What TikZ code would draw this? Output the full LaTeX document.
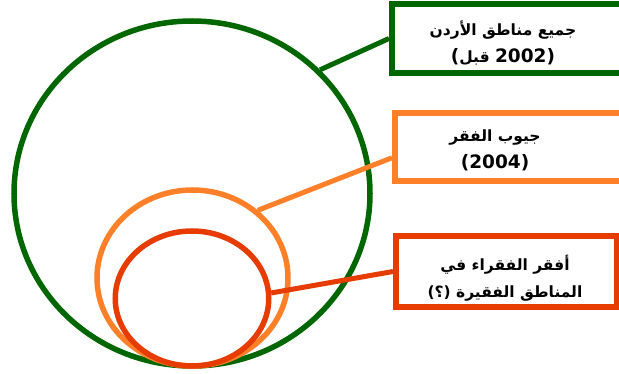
\documentclass[tikz,border=0pt]{standalone}
\usepackage{fontspec}
\newfontfamily\arabicfont[Script=Arabic]{DejaVu Sans}
\newfontfamily\latinfont{DejaVu Sans}
\TeXXeTstate=1
\usetikzlibrary{shapes.geometric}
\definecolor{jgreen}{RGB}{0,102,0}
\definecolor{jorange}{RGB}{255,128,40}
\definecolor{jred}{RGB}{230,60,0}
\newcommand{\lat}[1]{\hbox{\latinfont\fontsize{18.5}{27}\selectfont #1}}
\newcommand{\rtl}[1]{\hbox{\beginR #1\endR}}
\begin{document}
\begin{tikzpicture}
        [x=1pt,y=-1pt,
        ring/.style={ellipse,inner sep=0pt,line width=5.5pt},
        frame/.style={rectangle,inner sep=0pt,line width=6pt,fill=white},
        link/.style={line width=5pt},
        caption/.style={font=\arabicfont\bfseries\fontsize{15.5}{27}\selectfont,
            align=center,inner sep=0pt}]
        \useasboundingbox (0,0) rectangle (619,374);
        % nested areas
        \node[ring,draw=jgreen,minimum width=356,minimum height=345] (all) at (192,193.5) {};
        \node[ring,draw=jorange,minimum width=191,minimum height=176] (pockets) at (192.5,278) {};
        \node[ring,draw=jred,minimum width=153.5,minimum height=135] (poorest) at (192,298.5) {};
        % labels
        \node[frame,draw=jgreen,minimum width=240,minimum height=69] (allbox) at (512,38.5) {};
        \node[frame,draw=jorange,minimum width=240,minimum height=68] (pocketsbox) at (515,147) {};
        \node[frame,draw=jred,minimum width=221,minimum height=71] (poorestbox) at (506.5,271.5) {};
        \node[caption] (alltext) at (503,43) {\rtl{جميع مناطق الأردن}\\\hbox{\lat{(}\hbox{قبل}\ \lat{2002)}}};
        \node[caption] (pocketstext) at (495,150) {\rtl{جيوب الفقر}\\\lat{(2004)}};
        \node[caption] (pooresttext) at (505,278) {\rtl{أفقر الفقراء في}\\\rtl{المناطق الفقيرة (؟)}};
        % connectors
        \draw[link,jgreen] (all.44) -- (allbox.west);
        \draw[link,jorange] (pockets.46) -- (pocketsbox.185);
        \draw[link,jred] (poorest.4) -- (poorestbox.west);
    \end{tikzpicture}
\end{document}
